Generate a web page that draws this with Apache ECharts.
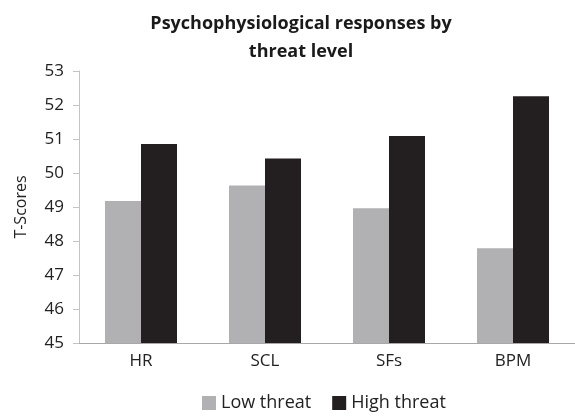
<!DOCTYPE html>
<html>
<head>
<meta charset="utf-8">
<script src="https://cdn.jsdelivr.net/npm/echarts@6/dist/echarts.min.js"></script>
<style>
html,body{margin:0;padding:0;background:#fff;}
#chart{width:575px;height:418px;}
</style>
</head>
<body>
<div id="chart"></div>
<script>
var categories = ['HR', 'SCL', 'SFs', 'BPM'];
var seriesNames = ['Low threat', 'High threat'];
var lowThreat = [49.18, 49.63, 48.96, 47.79];
var highThreat = [50.85, 50.43, 51.09, 52.26];
var yTicks = [45, 46, 47, 48, 49, 50, 51, 52, 53];

var FONT = '"Open Sans", sans-serif';
var chart = echarts.init(document.getElementById('chart'));
chart.setOption({
  animation: false,
  backgroundColor: '#ffffff',
  title: {
    text: 'Psychophysiological responses by\nthreat level',
    left: 296,
    top: 5,
    textAlign: 'center',
    textStyle: {fontFamily: FONT, fontWeight: 'bold', fontSize: 18, color: '#1a1a1a', lineHeight: 28}
  },
  legend: {
    data: seriesNames,
    bottom: 1,
    left: 197,
    itemWidth: 14,
    itemHeight: 14,
    itemGap: 21,
    icon: 'rect',
    textStyle: {fontFamily: FONT, fontSize: 18, color: '#222'}
  },
  grid: {left: 79, right: -4, top: 71, bottom: 75, containLabel: false},
  xAxis: {
    type: 'category',
    data: categories,
    axisLine: {lineStyle: {color: '#a8a8a8', width: 1}},
    axisTick: {show: false},
    axisLabel: {fontFamily: FONT, fontSize: 17, color: '#222', margin: 10}
  },
  yAxis: {
    type: 'value',
    min: yTicks[0],
    max: yTicks[yTicks.length - 1],
    interval: 1,
    name: 'T-Scores',
    nameLocation: 'middle',
    nameGap: 50,
    nameTextStyle: {fontFamily: FONT, fontSize: 16, color: '#222'},
    axisLine: {show: true, lineStyle: {color: '#c4c4c4', width: 1}},
    axisTick: {show: true, length: 6, lineStyle: {color: '#c4c4c4'}},
    splitLine: {show: false},
    axisLabel: {fontFamily: FONT, fontSize: 17, color: '#222', margin: 15}
  },
  series: [
    {
      name: seriesNames[0],
      type: 'bar',
      data: lowThreat,
      barWidth: 36,
      barGap: '0%',
      itemStyle: {color: '#b1b1b4'}
    },
    {
      name: seriesNames[1],
      type: 'bar',
      data: highThreat,
      barWidth: 36,
      barGap: '0%',
      itemStyle: {color: '#231f20'}
    }
  ]
});
</script>
</body>
</html>
